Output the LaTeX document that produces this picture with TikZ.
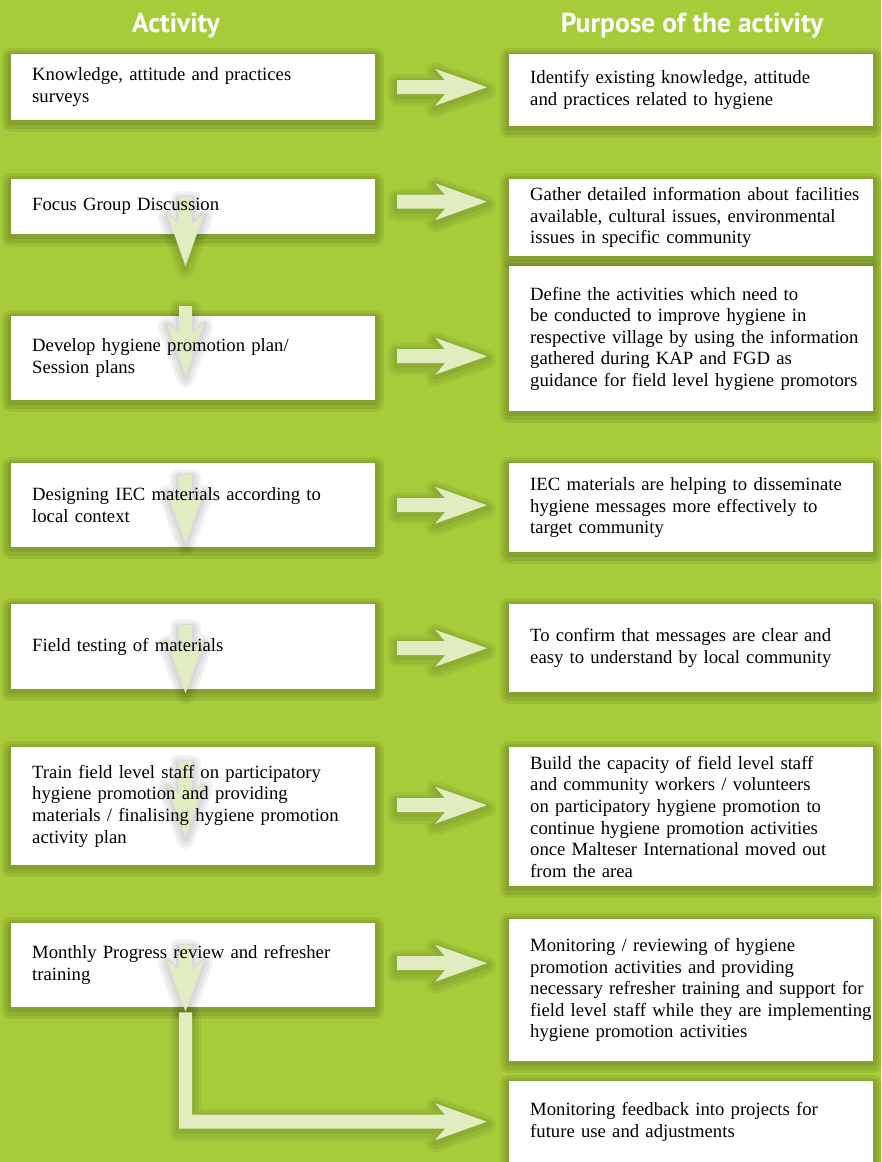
\documentclass[tikz,border=0pt]{standalone}
\usepackage{fontspec}
\setmainfont{Liberation Serif}
\newfontfamily\headfont{PT Sans}
\usetikzlibrary{calc}
\definecolor{leaf}{RGB}{166,204,58}
\definecolor{paleleaf}{RGB}{225,236,193}
\pgfdeclarelayer{boxes}
\pgfdeclarelayer{flows}
\pgfsetlayers{boxes,flows,main}
\hyphenpenalty=10000

\begin{document}
\begin{tikzpicture}[x=1pt,y=-1pt,
    card/.style={anchor=north west, text width=360pt,
      inner xsep=21pt, inner ysep=0pt, align=left,
      font=\fontsize{18.7}{21.6}\selectfont},
    head/.style={anchor=base, text=white, font=\headfont\bfseries\fontsize{27.5}{32}\selectfont},
    halo/.style={preaction={draw=black, opacity=#1, line width=18pt, line join=round, transform canvas={yshift=-3pt}},
      preaction={draw=black, opacity=#1, line width=12pt, line join=round, transform canvas={yshift=-3pt}},
      preaction={draw=black, opacity=#1, line width=6pt, line join=round, transform canvas={yshift=-2pt}}},
    cardfill/.style={fill=white, halo=.07},
    flow/.style={fill=paleleaf, halo=.05},
    rightflow/.style={to path={
      ($(\tikztostart)+(0,-7)$) -- ($(\tikztotarget)+(-42,-7)$)
      -- ($(\tikztotarget)+(-52,-18.5)$) -- (\tikztotarget)
      -- ($(\tikztotarget)+(-52,18.5)$) -- ($(\tikztotarget)+(-42,7)$)
      -- ($(\tikztostart)+(0,7)$) -- cycle}},
    downflow/.style={to path={
      ($(\tikztostart)+(-6.5,0)$) -- ($(\tikztotarget)+(-6.5,-42)$)
      -- ($(\tikztotarget)+(-18.5,-52)$) -- (\tikztotarget)
      -- ($(\tikztotarget)+(18.5,-52)$) -- ($(\tikztotarget)+(6.5,-42)$)
      -- ($(\tikztostart)+(6.5,0)$) -- cycle}}]

\useasboundingbox (0,0) rectangle (881,1162);

% headings
\node[head] (acthead) at (176,32) {Activity};
\node[head] (purphead) at (692,32) {Purpose of the activity};

% activities
\node[card, minimum height=66pt] (l1) at (11,54) {Knowledge, attitude and practices\\surveys};
\node[card, minimum height=55pt] (l2) at (11,179) {Focus Group Discussion};
\node[card, minimum height=84pt] (l3) at (11,316) {Develop hygiene promotion plan/\\Session plans};
\node[card, minimum height=84pt] (l4) at (11,463) {Designing IEC materials according to\\local context};
\node[card, minimum height=85pt] (l5) at (11,604) {Field testing of materials};
\node[card, minimum height=118pt] (l6) at (11,747) {Train field level staff on participatory\\hygiene promotion and providing\\materials / finalising hygiene promotion\\activity plan};
\node[card, minimum height=84pt] (l7) at (11,923) {Monthly Progress review and refresher\\training};

% purposes
\node[card, minimum height=72pt] (r1) at (509,54) {Identify existing knowledge, attitude\\and practices related to hygiene};
\node[card, minimum height=77pt] (r2) at (509,179) {Gather detailed information about facilities\\available, cultural issues, environmental\\issues in specific community};
\node[card, minimum height=145pt] (r3) at (509,266) {Define the activities which need to\\be conducted to improve hygiene in\\respective village by using the information\\gathered during KAP and FGD as\\guidance for field level hygiene promotors};
\node[card, minimum height=89pt] (r4) at (509,463) {IEC materials are helping to disseminate\\hygiene messages more effectively to\\target community};
\node[card, minimum height=88pt] (r5) at (509,604) {To confirm that messages are clear and\\easy to understand by local community\\[22pt]};
\node[card, minimum height=139pt] (r6) at (509,747) {Build the capacity of field level staff\\and community workers / volunteers\\on participatory hygiene promotion to\\continue hygiene promotion activities\\once Malteser International moved out\\from the area};
\node[card, minimum height=142pt] (r7) at (509,919) {Monitoring / reviewing of hygiene\\promotion activities and providing\\necessary refresher training and support for\\field level staff while they are implementing\\hygiene promotion activities};
\node[card, minimum height=81pt] (r8) at (509,1081) {Monitoring feedback into projects for\\future use and adjustments};

\begin{pgfonlayer}{boxes}
  \fill[leaf] (0,0) rectangle (881,1162);
  \foreach \n in {l1,l2,l3,l4,l5,l6,l7,r1,r2,r3,r4,r5,r6,r7,r8}
    \fill[cardfill] (\n.north west) rectangle ($(\n.south west)+(364,0)$);
\end{pgfonlayer}

\begin{pgfonlayer}{flows}
  % across
  \foreach \i/\dy in {1/0,2/-5,3/-2,4/0,5/1.5,6/-1,7/-2} {
    \coordinate (hs\i) at ($(l\i.west)+(386,\dy)$);
    \coordinate (he\i) at ($(l\i.west-|r\i.west)+(-22,\dy)$);
    \fill[flow] (hs\i) to[rightflow] (he\i);
  }
  % down
  \foreach \n/\a/\b in {l2/18/87,l3/-10/59,l4/12/80,l5/21/89,l6/14/90,l7/22/89} {
    \coordinate (vs) at ($(\n.north west)+(174.5,\a)$);
    \coordinate (ve) at ($(\n.north west)+(174.5,\b)$);
    \fill[flow] (vs) to[downflow] (ve);
  }
  % feedback
  \coordinate (lb) at ($(l7.south west)+(174.5,5)$);
  \coordinate (he8) at ($(r8.west)+(-22,0)$);
  \fill[flow] ($(lb)+(-6.5,0)$) |- ($(he8)+(-42,7)$) -- ($(he8)+(-52,18.5)$) -- (he8)
    -- ($(he8)+(-52,-18.5)$) -- ($(he8)+(-42,-7)$) -| ($(lb)+(6.5,0)$) -- cycle;
\end{pgfonlayer}

\end{tikzpicture}
\end{document}
